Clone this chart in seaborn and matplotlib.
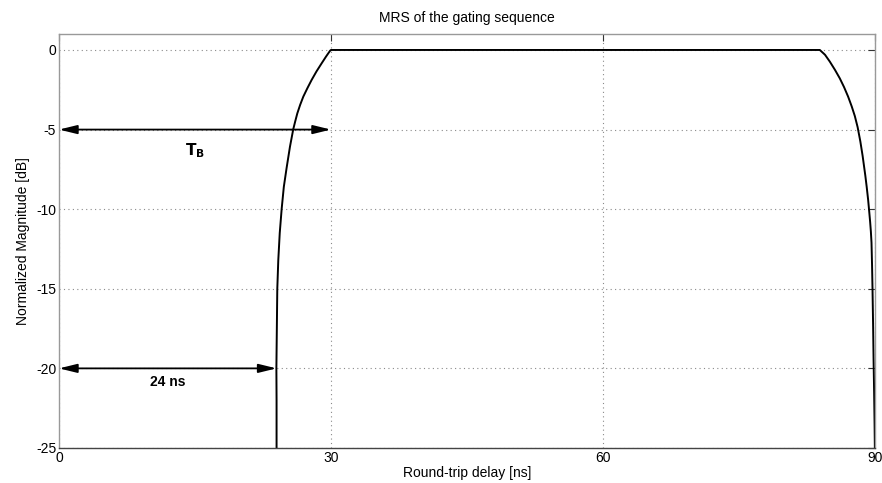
import matplotlib
matplotlib.use("Agg")
import matplotlib.pyplot as plt
import seaborn as sns
import pandas as pd

# Data
delay_ns = [24.00, 24.00, 23.98, 24.02, 24.08, 24.19, 24.35, 24.56, 24.80, 25.11,
            25.48, 25.84, 26.05, 26.29, 26.60, 26.95, 27.40, 27.87, 28.40, 28.97,
            29.45, 29.90, 30.0,
            40.0, 50.0, 60.0, 70.0, 80.0, 83.93,
            84.50, 85.03, 85.60, 86.13, 86.60, 87.05, 87.45, 87.79, 88.10, 88.40,
            88.65, 88.95, 89.10, 89.26, 89.37, 89.48, 89.56, 89.63, 89.69,
            89.74, 89.81, 89.86, 89.92, 89.97, 90.0]
magnitude_db = [-25.0, -22.0, -20.0, -18.0, -15.0, -13.2, -11.5, -10.0, -8.6, -7.4,
                -6.07, -4.98, -4.50, -3.98, -3.45, -2.93, -2.40, -1.88, -1.35, -0.84,
                -0.42, -0.05, 0.0,
                0.0, 0.0, 0.0, 0.0, 0.0, 0.0,
                -0.30, -0.73, -1.25, -1.78, -2.33, -2.93, -3.55, -4.15, -4.85, -5.75,
                -6.65, -7.9, -8.6, -9.42, -10.1, -10.8, -11.4, -12.1, -13.5,
                -14.97, -17.4, -19.5, -21.5, -23.5, -25.0]

x_ticks = [0, 30, 60, 90]
y_ticks = [0, -5, -10, -15, -20, -25]

tb_span = [0, 30]
tb_level = -5
delay_span = [0, 24]
delay_level = -20

sns.set_theme(style="white")
plt.rcParams['font.family'] = ['Liberation Sans', 'DejaVu Sans']
plt.rcParams['text.color'] = 'black'
plt.rcParams['axes.labelcolor'] = 'black'

fig = plt.figure(figsize=(8.82, 4.83), dpi=100)
ax = fig.add_axes([0.0669, 0.0725, 0.925, 0.857])

df = pd.DataFrame({"delay": delay_ns, "mag": magnitude_db})
sns.lineplot(data=df, x="delay", y="mag", sort=False, estimator=None,
             color="black", linewidth=1.4, ax=ax)

ax.set_xlim(0, 90)
ax.set_ylim(-25, 1)
ax.set_xticks(x_ticks)
ax.set_yticks(y_ticks)
ax.set_xticklabels([str(t) for t in x_ticks], fontsize=10)
ax.set_yticklabels([str(t) for t in y_ticks], fontsize=10)
ax.grid(True, linestyle=(0, (1, 3)), color="#8a8a8a", linewidth=0.8)
ax.tick_params(direction="in", length=5, width=0.8, color="#333333",
               top=True, right=True, labelcolor="black", pad=2)

for s in ["left", "top", "right"]:
    ax.spines[s].set_color("#999999")
    ax.spines[s].set_linewidth(1.0)
ax.spines["bottom"].set_color("#444444")
ax.spines["bottom"].set_linewidth(1.0)

ax.set_xlabel("Round-trip delay [ns]", fontsize=10, labelpad=1, color="black")
ax.set_ylabel("Normalized Magnitude [dB]", fontsize=10, labelpad=4, color="black")
ax.set_title("MRS of the gating sequence", fontsize=10, pad=9, color="black")

arrow_kw = dict(arrowstyle="<|-|>,head_length=0.9,head_width=0.22",
                color="black", lw=1.3, shrinkA=0, shrinkB=0)
ax.annotate("", xy=(tb_span[1], tb_level), xytext=(tb_span[0], tb_level),
            arrowprops=arrow_kw)
ax.annotate("", xy=(delay_span[1], delay_level), xytext=(delay_span[0], delay_level),
            arrowprops=arrow_kw)

ax.text(15.0, -6.3, r"$\mathbf{T_B}$", ha="center", va="center", fontsize=11,
        fontweight="bold", color="black")
ax.text(12.0, -20.85, "24 ns", ha="center", va="center", fontsize=10,
        fontweight="bold", color="black")

fig.savefig("out.png", dpi=100)
